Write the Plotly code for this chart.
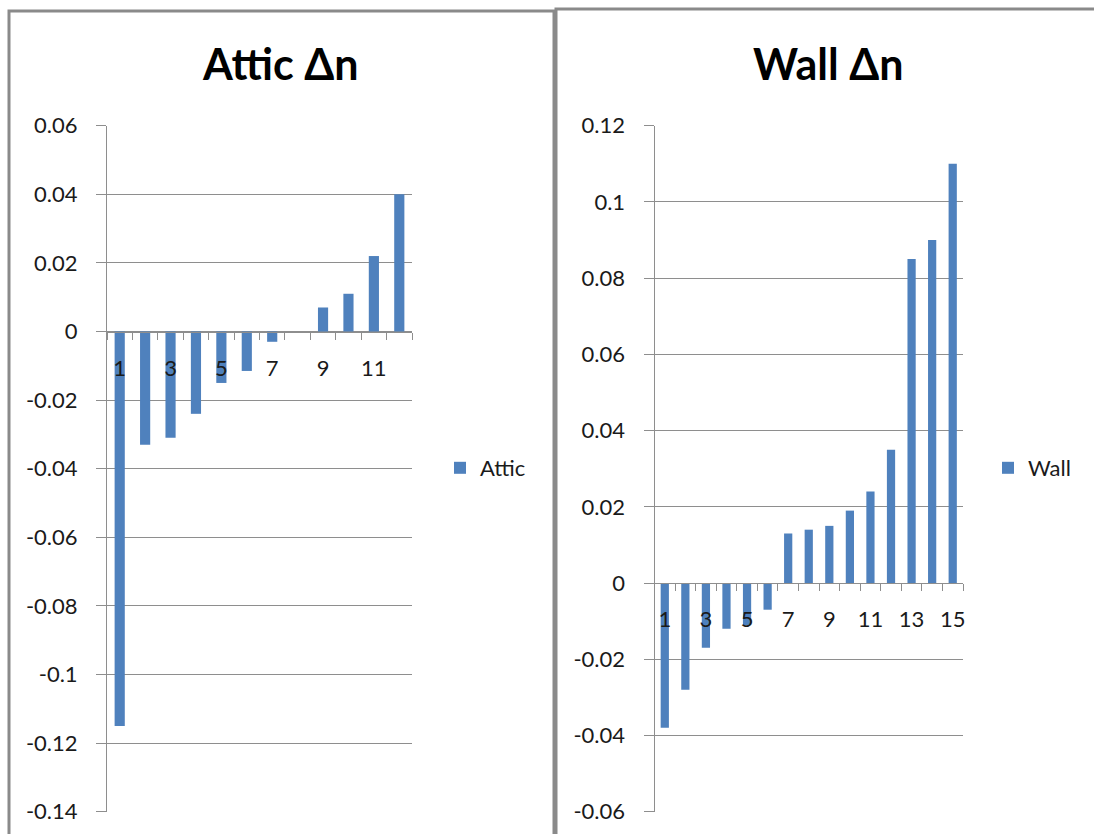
import plotly.graph_objects as go

# Change in n per case, sorted ascending
attic_cases = list(range(1, 13))
attic_dn = [-0.115, -0.033, -0.031, -0.024, -0.015, -0.0115, -0.003, 0.0,
            0.007, 0.011, 0.022, 0.040]

wall_cases = list(range(1, 16))
wall_dn = [-0.038, -0.028, -0.017, -0.012, -0.011, -0.007, 0.013, 0.014,
           0.015, 0.019, 0.024, 0.035, 0.085, 0.090, 0.110]

attic_yticks = [0.06, 0.04, 0.02, 0, -0.02, -0.04, -0.06, -0.08, -0.1, -0.12, -0.14]
attic_ylabels = ["0.06", "0.04", "0.02", "0", "-0.02", "-0.04", "-0.06", "-0.08",
                 "-0.1", "-0.12", "-0.14"]
wall_yticks = [0.12, 0.1, 0.08, 0.06, 0.04, 0.02, 0, -0.02, -0.04, -0.06]
wall_ylabels = ["0.12", "0.1", "0.08", "0.06", "0.04", "0.02", "0", "-0.02",
                "-0.04", "-0.06"]

W, H = 1094, 834
BLUE = "#4F81BD"
GRID = "#8E8E8E"
FONT = "Lato, 'Open Sans', sans-serif"


def px(x):
    return x / W


def py(y):
    return 1 - y / H


def zero_pos(ymin, ymax, top, bottom):
    d0, d1 = py(bottom), py(top)
    return d0 + (0 - ymin) / (ymax - ymin) * (d1 - d0)


fig = go.Figure()
fig.add_trace(go.Bar(x=attic_cases, y=attic_dn, name="Attic", marker_color=BLUE,
                     marker_line_width=0, xaxis="x", yaxis="y", legend="legend"))
fig.add_trace(go.Bar(x=wall_cases, y=wall_dn, name="Wall", marker_color=BLUE,
                     marker_line_width=0, xaxis="x2", yaxis="y2", legend="legend2"))

TOP, BOT = 125.7, 811.7
A_L, A_R = 107, 412
W_L, W_R = 654.5, 963
a_rng = [-0.14, 0.06]
w_rng = [-0.06, 0.12]

tickfont = dict(family=FONT, size=22, color="#1a1a1a")


def xaxis(n, left, right, rng):
    return dict(
        domain=[px(left), px(right)], range=[0.5, n + 0.5], anchor="free",
        position=zero_pos(rng[0], rng[1], TOP, BOT), automargin=False,
        showline=True, linecolor=GRID, linewidth=1, showgrid=False, zeroline=False,
        tickvals=list(range(1, n + 1, 2)), ticktext=[str(v) for v in range(1, n + 1, 2)],
        ticks="", ticklabelstandoff=17, tickfont=tickfont,
        minor=dict(tickvals=[k + 0.5 for k in range(0, n + 1)], ticks="outside",
                   ticklen=7, tickcolor=GRID, tickwidth=1, showgrid=False),
    )


def yaxis(rng, vals, labels, anchor):
    return dict(
        domain=[py(BOT), py(TOP)], range=rng, anchor=anchor, automargin=False,
        showline=True, linecolor=GRID, linewidth=1, showgrid=True, gridcolor=GRID,
        gridwidth=1, zeroline=False,
        tickvals=vals, ticktext=labels, ticks="outside", ticklen=10, tickcolor=GRID,
        ticklabelstandoff=14, tickfont=tickfont,
    )


legend_font = dict(family=FONT, size=22, color="#1a1a1a")

fig.update_layout(
    width=W, height=H, margin=dict(l=0, r=0, t=0, b=0, autoexpand=False),
    paper_bgcolor="white", plot_bgcolor="white",
    bargap=0.6, showlegend=True,
    xaxis=xaxis(12, A_L, A_R, a_rng),
    yaxis=yaxis(a_rng, attic_yticks, attic_ylabels, "x"),
    xaxis2=xaxis(15, W_L, W_R, w_rng),
    yaxis2=yaxis(w_rng, wall_yticks, wall_ylabels, "x2"),
    legend=dict(x=px(440), y=py(468), xanchor="left", yanchor="middle",
                font=legend_font, bgcolor="rgba(0,0,0,0)"),
    legend2=dict(x=px(988), y=py(468), xanchor="left", yanchor="middle",
                 font=legend_font, bgcolor="rgba(0,0,0,0)"),
)

# Chart titles
for label, cx in (("Attic Δn", 280), ("Wall Δn", 828)):
    fig.add_annotation(text=f"<b>{label}</b>", x=px(cx), y=py(64), xref="paper",
                       yref="paper", xanchor="center", yanchor="middle",
                       showarrow=False, font=dict(family=FONT, size=43, color="#000"))

# Chart frames
BORDER = dict(color="#8A8A8A", width=3)
fig.add_shape(type="rect", xref="paper", yref="paper",
              x0=px(9), x1=px(554), y0=py(860), y1=py(11), line=BORDER)
fig.add_shape(type="rect", xref="paper", yref="paper",
              x0=px(556), x1=px(1110), y0=py(860), y1=py(9), line=BORDER)

fig.write_html("out.html")
